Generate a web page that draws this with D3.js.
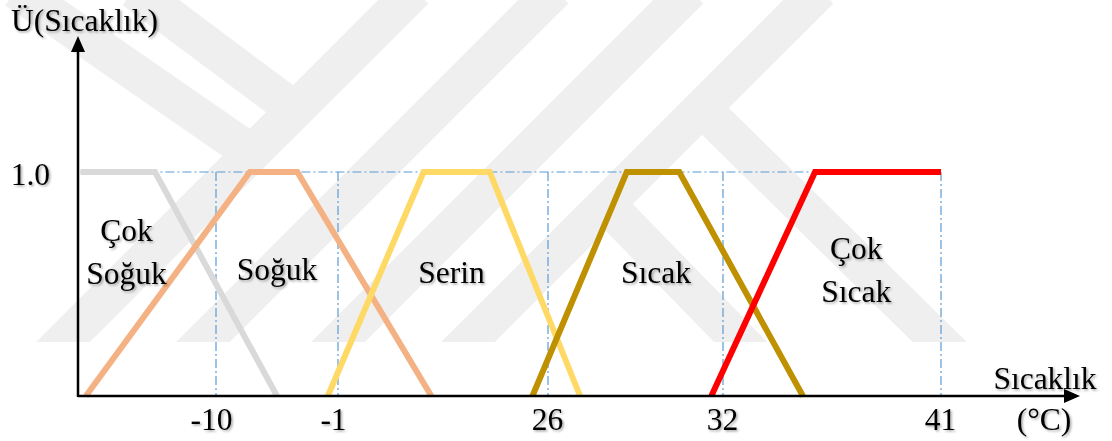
<!DOCTYPE html>
<html>
<head>
<meta charset="utf-8">
<script src="https://cdn.jsdelivr.net/npm/d3@7/dist/d3.min.js"></script>
<style>
  html, body { margin: 0; padding: 0; background: #fff; }
  svg { display: block; font-family: "Liberation Serif", "Times New Roman", serif; }
</style>
</head>
<body>
<svg id="chart" width="1112" height="441"></svg>
<script>
// ---------- DATA ----------
const categories = ["Çok Soğuk", "Soğuk", "Serin", "Sıcak", "Çok Sıcak"];
const categoryLines = [["Çok", "Soğuk"], ["Soğuk"], ["Serin"], ["Sıcak"], ["Çok", "Sıcak"]];
// breakpoints (°C) and membership degrees for each fuzzy set
const cokSogukX = [-20, -14.5, -5.5];
const cokSogukU = [1, 1, 0];
const sogukX = [-19.6, -7.5, -4, 11];
const sogukU = [0, 1, 1, 0];
const serinX = [-1.75, 10, 18.5, 27.1];
const serinU = [0, 1, 1, 0];
const sicakX = [24, 28.7, 30.5, 35.3];
const sicakU = [0, 1, 1, 0];
const cokSicakX = [31.6, 35.8, 41];
const cokSicakU = [0, 1, 1];
const xTickValues = [-10, -1, 26, 32, 41];
const xTickLabels = ["-10", "-1", "26", "32", "41"];
const yTickValues = [1.0];
const yTickLabels = ["1.0"];
const yTitle = "Ü(Sıcaklık)";
const xTitle = ["Sıcaklık", "(°C)"];
// label anchor (°C, membership) for each set name
const labelAtX = [-16.6, -5.5, 13.6, 29.7, 37.5];
const labelAtU = [0.69, 0.52, 0.505, 0.505, 0.61];

// ---------- LAYOUT / STYLE ----------
const W = 1112, H = 441;
const xStops = [216, 338, 548, 723, 941];   // schematic (non-linear) axis positions of the ticks
const originX = 78, axisEndX = 1080, baseY = 396, topY = 172, yArrowTop = 36;
const colors = ["#d9d9d9", "#f4b183", "#ffd966", "#bf9000", "#ff0000"];
const fontSize = 31.5;

const svg = d3.select("#chart");

// text shadow
const defs = svg.append("defs");
const f = defs.append("filter").attr("id", "shadow").attr("x", "-20%").attr("y", "-20%").attr("width", "140%").attr("height", "160%");
f.append("feDropShadow").attr("dx", 1.5).attr("dy", 1.5).attr("stdDeviation", 1.2)
  .attr("flood-color", "#000").attr("flood-opacity", 0.35);
defs.append("clipPath").attr("id", "wmclip").append("rect")
  .attr("x", 0).attr("y", 0).attr("width", 1000).attr("height", 342);

// ---------- background watermark (faint diagonal bands) ----------
const wm = svg.append("g").attr("clip-path", "url(#wmclip)")
  .attr("stroke", "#efefef").attr("fill", "none").attr("stroke-linecap", "butt");
const wmSlash = [405, 545, 680, 810];   // "/" bands: x + y = c
wmSlash.forEach(c => wm.append("line").attr("x1", c - 400).attr("y1", 400).attr("x2", c + 10).attr("y2", -10).attr("stroke-width", 38));
const wmBack = [[134, -10, 292, 108], [16, -10, 250, 152], [712, 118, 960, 362], [612, 210, 760, 362]]; // "\" bands
wmBack.forEach(s => wm.append("line").attr("x1", s[0]).attr("y1", s[1]).attr("x2", s[2]).attr("y2", s[3]).attr("stroke-width", 38));

// ---------- scales ----------
const x = d3.scaleLinear().domain(xTickValues).range(xStops);
const y = d3.scaleLinear().domain([0, 1]).range([baseY, topY]);

// ---------- guide lines (dash-dot) ----------
const guides = svg.append("g").attr("stroke", "#5b9bd5").attr("stroke-width", 1.2)
  .attr("stroke-dasharray", "9,3,2,3").attr("fill", "none");
guides.append("line").attr("x1", x(-20)).attr("x2", x(41)).attr("y1", y(1)).attr("y2", y(1));
guides.selectAll("line.v").data(xTickValues).join("line").attr("class", "v")
  .attr("x1", d => x(d)).attr("x2", d => x(d)).attr("y1", y(1)).attr("y2", y(0));

// ---------- membership functions ----------
const series = [
  [cokSogukX, cokSogukU], [sogukX, sogukU], [serinX, serinU], [sicakX, sicakU], [cokSicakX, cokSicakU]
];
const line = d3.line().x(d => x(d[0])).y(d => y(d[1]));
svg.append("g").selectAll("path").data(series).join("path")
  .attr("d", s => line(s[0].map((v, i) => [v, s[1][i]])))
  .attr("fill", "none")
  .attr("stroke", (s, i) => colors[i])
  .attr("stroke-width", 6)
  .attr("stroke-linejoin", "miter");

// ---------- axes ----------
const axisG = svg.append("g");
axisG.append("line").attr("x1", originX).attr("x2", axisEndX - 14).attr("y1", baseY).attr("y2", baseY)
  .attr("stroke", "#000").attr("stroke-width", 2.5);
axisG.append("path").attr("d", `M${axisEndX},${baseY} L${axisEndX - 16},${baseY - 7} L${axisEndX - 16},${baseY + 7} Z`).attr("fill", "#000");
axisG.append("line").attr("x1", originX).attr("x2", originX).attr("y1", baseY + 1).attr("y2", yArrowTop + 14)
  .attr("stroke", "#000").attr("stroke-width", 2.5);
axisG.append("path").attr("d", `M${originX},${yArrowTop} L${originX - 7},${yArrowTop + 16} L${originX + 7},${yArrowTop + 16} Z`).attr("fill", "#000");

const xAxis = d3.axisBottom(x).tickValues(xTickValues).tickSize(0).tickPadding(12)
  .tickFormat((d, i) => xTickLabels[i]);
const xa = svg.append("g").attr("transform", `translate(0,${baseY})`).call(xAxis);
xa.select(".domain").remove();
xa.selectAll("text").attr("font-size", fontSize).attr("font-family", "Liberation Serif").attr("fill", "#000")
  .attr("filter", "url(#shadow)")
  .attr("dx", (d) => d < 0 ? -5 : -1);

const yAxis = d3.axisLeft(y).tickValues(yTickValues).tickSize(0).tickPadding(28)
  .tickFormat((d, i) => yTickLabels[i]);
const ya = svg.append("g").attr("transform", `translate(${originX},0)`).call(yAxis);
ya.select(".domain").remove();
ya.selectAll("text").attr("font-size", fontSize).attr("font-family", "Liberation Serif").attr("fill", "#000")
  .attr("dy", "0.4em").attr("filter", "url(#shadow)");

// ---------- titles ----------
const txt = svg.append("g").attr("font-size", fontSize).attr("fill", "#000").attr("filter", "url(#shadow)");
txt.append("text").attr("x", 11).attr("y", 31).text(yTitle);
txt.append("text").attr("x", 1045).attr("y", 389).attr("text-anchor", "middle").text(xTitle[0]);
txt.append("text").attr("x", 1044).attr("y", 430).attr("text-anchor", "middle").text(xTitle[1]);

// ---------- set names ----------
categoryLines.forEach((lines, i) => {
  const t = txt.append("text").attr("text-anchor", "middle")
    .attr("x", x(labelAtX[i])).attr("y", y(labelAtU[i]));
  lines.forEach((l, j) => t.append("tspan").attr("x", x(labelAtX[i])).attr("dy", j === 0 ? 0 : "1.34em").text(l));
});
</script>
</body>
</html>
